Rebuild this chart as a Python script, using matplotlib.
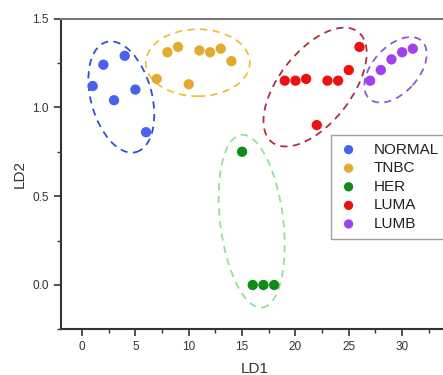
import matplotlib
matplotlib.use("Agg")
import matplotlib.pyplot as plt
from matplotlib.patches import Ellipse
from matplotlib.transforms import ScaledTranslation
from matplotlib.ticker import MultipleLocator

plt.rcParams['font.family'] = ['Liberation Sans', 'DejaVu Sans']

groups = ["NORMAL", "TNBC", "HER", "LUMA", "LUMB"]
normal_x = [1, 2, 3, 4, 5, 6]
normal_y = [1.12, 1.24, 1.04, 1.29, 1.10, 0.86]
tnbc_x = [7, 8, 9, 10, 11, 12, 13, 14]
tnbc_y = [1.16, 1.31, 1.34, 1.13, 1.32, 1.31, 1.33, 1.26]
her_x = [15, 16, 17, 18]
her_y = [0.75, 0.0, 0.0, 0.0]
luma_x = [19, 20, 21, 22, 23, 24, 25, 26]
luma_y = [1.15, 1.15, 1.16, 0.90, 1.15, 1.15, 1.21, 1.34]
lumb_x = [27, 28, 29, 30, 31]
lumb_y = [1.15, 1.21, 1.27, 1.31, 1.33]

colors = ["#4763EE", "#E3AA2F", "#118A17", "#EE1111", "#A040EE"]
ell_colors = ["#2F4FD0", "#EEC040", "#9ADC9A", "#A8323E", "#8C5CD0"]
# ellipse: center (data), width px, height px, angle deg
ellipses = [
    ((3.68, 1.058), 61, 114, 15),
    ((10.85, 1.251), 104, 67, 0),
    ((15.9, 0.359), 63, 174, 7),
    ((21.84, 1.114), 140, 72, 52),
    ((29.38, 1.211), 78, 46, 48),
]

W, H = 443, 375
fig = plt.figure(figsize=(W / 100, H / 100), dpi=100)
xlim = (-2, 34.4)
ylim = (-0.25, 1.5)
left_px, top_px, bottom_px = 60.7, 18.5, 329.4
px_per_x = 10.67
right_px = left_px + (xlim[1] - xlim[0]) * px_per_x
ax = fig.add_axes([left_px / W, 1 - bottom_px / H, (right_px - left_px) / W, (bottom_px - top_px) / H])
ax.set_xlim(*xlim)
ax.set_ylim(*ylim)

data = [(normal_x, normal_y), (tnbc_x, tnbc_y), (her_x, her_y), (luma_x, luma_y), (lumb_x, lumb_y)]
for (xs, ys), c, name in zip(data, colors, groups):
    ax.scatter(xs, ys, s=55, color=c, edgecolors='none', label=name, zorder=3)

for (center, w, h, ang), ec in zip(ellipses, ell_colors):
    tr = fig.dpi_scale_trans + ScaledTranslation(center[0], center[1], ax.transData)
    e = Ellipse((0, 0), w / 100, h / 100, angle=ang, transform=tr, fill=False,
                edgecolor=ec, lw=1.3, linestyle=(0, (4, 3)), zorder=2)
    ax.add_patch(e)

ax.xaxis.set_major_locator(MultipleLocator(5))
ax.xaxis.set_minor_locator(MultipleLocator(2.5))
ax.yaxis.set_major_locator(MultipleLocator(0.5))
ax.yaxis.set_minor_locator(MultipleLocator(0.25))
ax.yaxis.set_major_formatter(matplotlib.ticker.FormatStrFormatter('%.1f'))
ax.tick_params(which='major', direction='out', length=5, width=1.2, colors='#333333', labelsize=8.5, labelcolor='#333333')
ax.tick_params(which='minor', direction='out', length=3, width=1.0, colors='#333333')
for sp in ['left', 'bottom']:
    ax.spines[sp].set_color('#333333')
    ax.spines[sp].set_linewidth(1.5)
ax.spines['top'].set_color('#777777')
ax.spines['top'].set_linewidth(1.5)
ax.spines['right'].set_visible(False)

ax.set_xlabel("LD1", fontsize=11, color='#333333', labelpad=6)
ax.set_ylabel("LD2", fontsize=11, color='#333333', labelpad=4)

leg = ax.legend(loc='upper left', bbox_to_anchor=(331 / W, 1 - 135 / H), bbox_transform=fig.transFigure,
                fontsize=11, frameon=True, fancybox=False, edgecolor='#888888', borderaxespad=0,
                handlelength=1.3, handletextpad=1.0, labelspacing=0.3, borderpad=0.5, markerscale=0.9)
leg.get_frame().set_linewidth(1.0)
for t in leg.get_texts():
    t.set_color('#222222')

fig.savefig("out.png", dpi=100)
